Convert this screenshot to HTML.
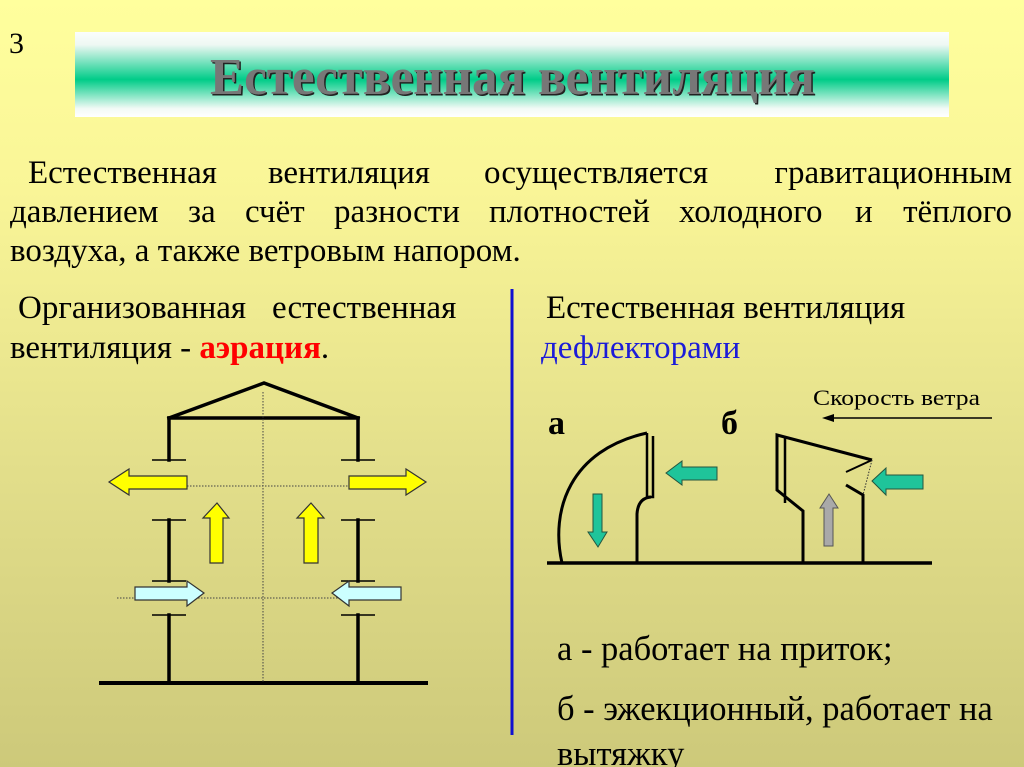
<!DOCTYPE html>
<html><head><meta charset="utf-8"><style>
html,body{margin:0;padding:0;background:#f0ec92;}
svg{display:block;}
text{font-family:"Liberation Serif","DejaVu Serif",serif;}
</style></head><body>
<svg width="1024" height="767" viewBox="0 0 1024 767" xmlns="http://www.w3.org/2000/svg">
<defs>
<linearGradient id="bg" x1="0" y1="0" x2="0" y2="1">
<stop offset="0" stop-color="#ffff9d"/>
<stop offset="0.25" stop-color="#f9f597"/>
<stop offset="0.6" stop-color="#e3df8b"/>
<stop offset="1" stop-color="#cdc97a"/>
</linearGradient>
<linearGradient id="band" x1="0" y1="0" x2="0" y2="1">
<stop offset="0" stop-color="#fbfdfc"/>
<stop offset="0.15" stop-color="#eef8f3"/>
<stop offset="0.56" stop-color="#00cc88"/>
<stop offset="0.9" stop-color="#f2faf6"/>
<stop offset="1" stop-color="#ffffff"/>
</linearGradient>
</defs>
<rect x="0" y="0" width="1024" height="767" fill="url(#bg)"/>

<!-- header -->
<text x="9" y="53" font-size="30" fill="#000">3</text>
<rect x="75" y="32" width="874" height="85" fill="url(#band)"/>
<text x="211.5" y="95.5" font-size="52" font-weight="bold" fill="#222" textLength="605" lengthAdjust="spacingAndGlyphs">Естественная вентиляция</text>
<text x="210" y="94" font-size="52" font-weight="bold" fill="#777777" textLength="605" lengthAdjust="spacingAndGlyphs">Естественная вентиляция</text>

<!-- paragraph -->
<g font-size="33" fill="#000">
<text x="28" y="183">Естественная</text>
<text x="268" y="183">вентиляция</text>
<text x="484" y="183">осуществляется</text>
<text x="1012" y="183" text-anchor="end">гравитационным</text>

<text x="10" y="222">давлением</text>
<text x="188" y="222">за</text>
<text x="245" y="222">счёт</text>
<text x="334" y="222">разности</text>
<text x="489" y="222">плотностей</text>
<text x="679" y="222">холодного</text>
<text x="855" y="222">и</text>
<text x="1012" y="222" text-anchor="end">тёплого</text>

<text x="10" y="261">воздуха, а также ветровым напором.</text>

<text x="18" y="318">Организованная</text>
<text x="272" y="318">естественная</text>
<text x="10" y="358">вентиляция - <tspan font-weight="bold" fill="#ff0000">аэрация</tspan>.</text>

<text x="546" y="318">Естественная вентиляция</text>
<text x="541" y="358" fill="#1c1cd8">дефлекторами</text>
</g>

<!-- divider -->
<line x1="512" y1="289" x2="512" y2="735" stroke="#1010d0" stroke-width="3"/>

<!-- building diagram -->
<g stroke="#000" fill="none" stroke-linecap="square">
<polyline points="169,418 264,383 358,418" stroke-width="3.5" stroke-linejoin="miter"/>
<line x1="169" y1="418" x2="358" y2="418" stroke-width="3.5"/>
<line x1="169" y1="418" x2="169" y2="460" stroke-width="3.5"/>
<line x1="358" y1="418" x2="358" y2="460" stroke-width="3.5"/>
<line x1="169" y1="520" x2="169" y2="581" stroke-width="3.5"/>
<line x1="358" y1="520" x2="358" y2="581" stroke-width="3.5"/>
<line x1="169" y1="615" x2="169" y2="683" stroke-width="3.5"/>
<line x1="358" y1="615" x2="358" y2="683" stroke-width="3.5"/>
<line x1="101" y1="683" x2="426" y2="683" stroke-width="4"/>
</g>
<g stroke="#000" stroke-width="1.5">
<line x1="152" y1="460" x2="186" y2="460"/>
<line x1="341" y1="460" x2="375" y2="460"/>
<line x1="152" y1="520" x2="186" y2="520"/>
<line x1="341" y1="520" x2="375" y2="520"/>
<line x1="152" y1="581" x2="186" y2="581"/>
<line x1="341" y1="581" x2="375" y2="581"/>
<line x1="152" y1="615" x2="186" y2="615"/>
<line x1="341" y1="615" x2="375" y2="615"/>
</g>
<g stroke="#444" stroke-width="1" stroke-dasharray="1.5,1.5" fill="none">
<line x1="263" y1="392" x2="263" y2="683"/>
<line x1="187" y1="486" x2="349" y2="486"/>
<line x1="117" y1="598" x2="338" y2="598"/>
</g>
<g fill="#ffff00" stroke="#333" stroke-width="1.2" stroke-linejoin="miter">
<polygon points="109,482 129,469 129,476 187,476 187,489 129,489 129,495"/>
<polygon points="426,482 406,469 406,476 349,476 349,489 406,489 406,495"/>
<polygon points="217,503 229,518 223,518 223,563 210,563 210,518 203,518"/>
<polygon points="311,503 324,518 318,518 318,563 304,563 304,518 297,518"/>
</g>
<g fill="#ccffff" stroke="#333" stroke-width="1.2">
<polygon points="135,587 187,587 187,581 204,593 187,606 187,600 135,600"/>
<polygon points="401,587 349,587 349,581 332,593 349,606 349,600 401,600"/>
</g>

<!-- deflectors -->
<text x="548" y="434" font-size="34" font-weight="bold" fill="#000">а</text>
<text x="721" y="434" font-size="34" font-weight="bold" fill="#000">б</text>
<text x="813" y="405" font-size="22" fill="#000" textLength="167" lengthAdjust="spacingAndGlyphs">Скорость ветра</text>
<line x1="830" y1="418" x2="992" y2="418" stroke="#000" stroke-width="1.5"/>
<polygon points="822,418 834,414 834,422" fill="#000"/>

<g stroke="#000" fill="none" stroke-width="3">
<line x1="547" y1="563" x2="932" y2="563" stroke-width="3.5"/>
<path d="M562,563 C550,510 570,450 647,433"/>
<path d="M647,433 L647,497 L653,497 L653,436" stroke-width="2.5"/>
<path d="M651,497 Q638,498 637,514 L637,563"/>
<path d="M872,460 L777,435 L777,490 L803,511 L803,563"/>
<line x1="785" y1="437" x2="785" y2="503" stroke-width="2.5"/>
<line x1="846" y1="472" x2="872" y2="460" stroke-width="2"/>
<path d="M846,485 L863,495 L863,563" />
</g>
<line x1="872" y1="460" x2="863" y2="495" stroke="#333" stroke-width="1" stroke-dasharray="1.5,1.5"/>

<g fill="#1fc49a" stroke="#24553f" stroke-width="1">
<polygon points="666,473 682,461 682,467 717,467 717,480 682,480 682,485"/>
<polygon points="593,494 602,494 602,532 607,532 598,547 588,532 593,532"/>
<polygon points="872,481 886,468 886,475 923,475 923,489 886,489 886,495"/>
</g>
<polygon points="829,494 838,508 833,508 833,546 824,546 824,508 820,508" fill="#a9a9a9" stroke="#555" stroke-width="1"/>

<!-- bottom notes -->
<g font-size="34.5" fill="#000">
<text x="557" y="660">а - работает на приток;</text>
<text x="557" y="720">б - эжекционный, работает на</text>
<text x="557" y="765">вытяжку</text>
</g>
</svg>
</body></html>
